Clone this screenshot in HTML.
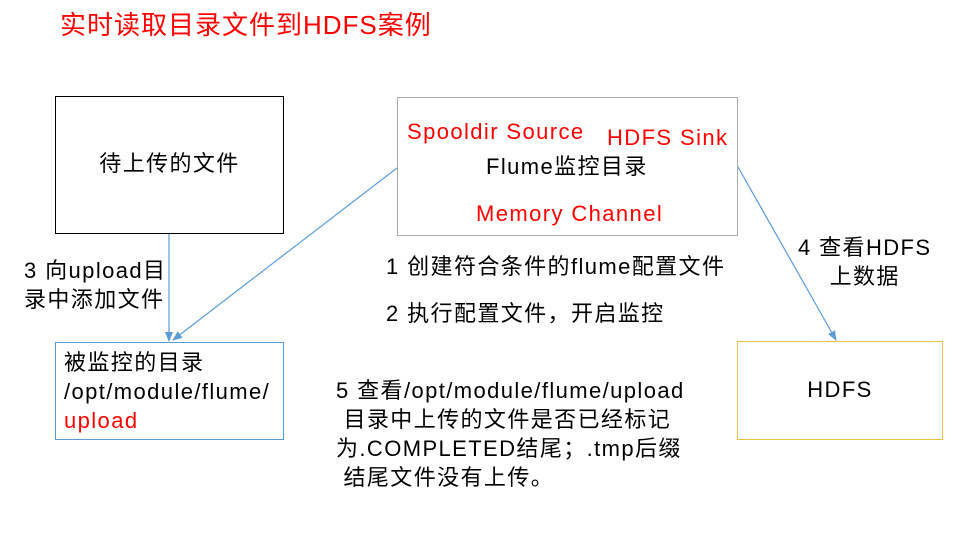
<!DOCTYPE html>
<html><head><meta charset="utf-8"><style>
body{margin:0;width:960px;height:540px;background:#fff;position:relative;overflow:hidden;font-family:"Liberation Sans","Noto Sans CJK SC",sans-serif;color:#000}
.t{position:absolute;white-space:nowrap;font-size:22px;line-height:28px;letter-spacing:1.4px}
.r{color:#f00}
.b{position:absolute;box-sizing:border-box}
</style></head><body>
<div class="t r" style="left:60px;top:9px;font-size:26px;line-height:32px;letter-spacing:1px">实时读取目录文件到HDFS案例</div>
<div class="b" style="left:55px;top:96px;width:229px;height:138px;border:1.5px solid #000"></div>
<div class="t" style="left:55px;top:150px;width:229px;text-align:center">待上传的文件</div>
<div class="b" style="left:55px;top:342px;width:229px;height:98px;border:1.5px solid #5b9bd5"></div>
<div class="t" style="left:64px;top:348px;line-height:29px">被监控的目录<br>/opt/module/flume/<br><span class="r">upload</span></div>
<div class="b" style="left:397px;top:97px;width:341px;height:139px;border:1px solid #aaa"></div>
<div class="t r" style="left:407px;top:118px">Spooldir Source</div>
<div class="t r" style="left:607px;top:124px">HDFS Sink</div>
<div class="t" style="left:486px;top:153px">Flume监控目录</div>
<div class="t r" style="left:476px;top:200px">Memory Channel</div>
<div class="b" style="left:737px;top:341px;width:206px;height:99px;border:1px solid #f0c040"></div>
<div class="t" style="left:737px;top:376px;width:206px;text-align:center">HDFS</div>
<div class="t" style="left:24px;top:256px;line-height:29px">3 向upload目<br>录中添加文件</div>
<div class="t" style="left:386px;top:253px">1 创建符合条件的flume配置文件</div>
<div class="t" style="left:386px;top:300px">2 执行配置文件，开启监控</div>
<div class="t" style="left:798px;top:233px;line-height:29px;text-align:center">4 查看HDFS<br>上数据</div>
<div class="t" style="left:336px;top:376px;line-height:29px">5 查看/opt/module/flume/upload<br>&nbsp;目录中上传的文件是否已经标记<br>为.COMPLETED结尾；.tmp后缀<br>&nbsp;结尾文件没有上传。</div>
<svg width="960" height="540" style="position:absolute;left:0;top:0">
<defs><marker id="a" markerWidth="10" markerHeight="8" refX="9" refY="4" orient="auto" markerUnits="userSpaceOnUse"><path d="M0,0L10,4L0,8z" fill="#5b9bd5"/></marker></defs>
<g stroke="#5b9bd5" stroke-width="1.2" fill="none">
<line x1="169" y1="234" x2="169" y2="341" marker-end="url(#a)"/>
<line x1="397" y1="168" x2="173" y2="340" marker-end="url(#a)"/>
<line x1="738" y1="167" x2="836" y2="340" marker-end="url(#a)"/>
</g></svg>
</body></html>
